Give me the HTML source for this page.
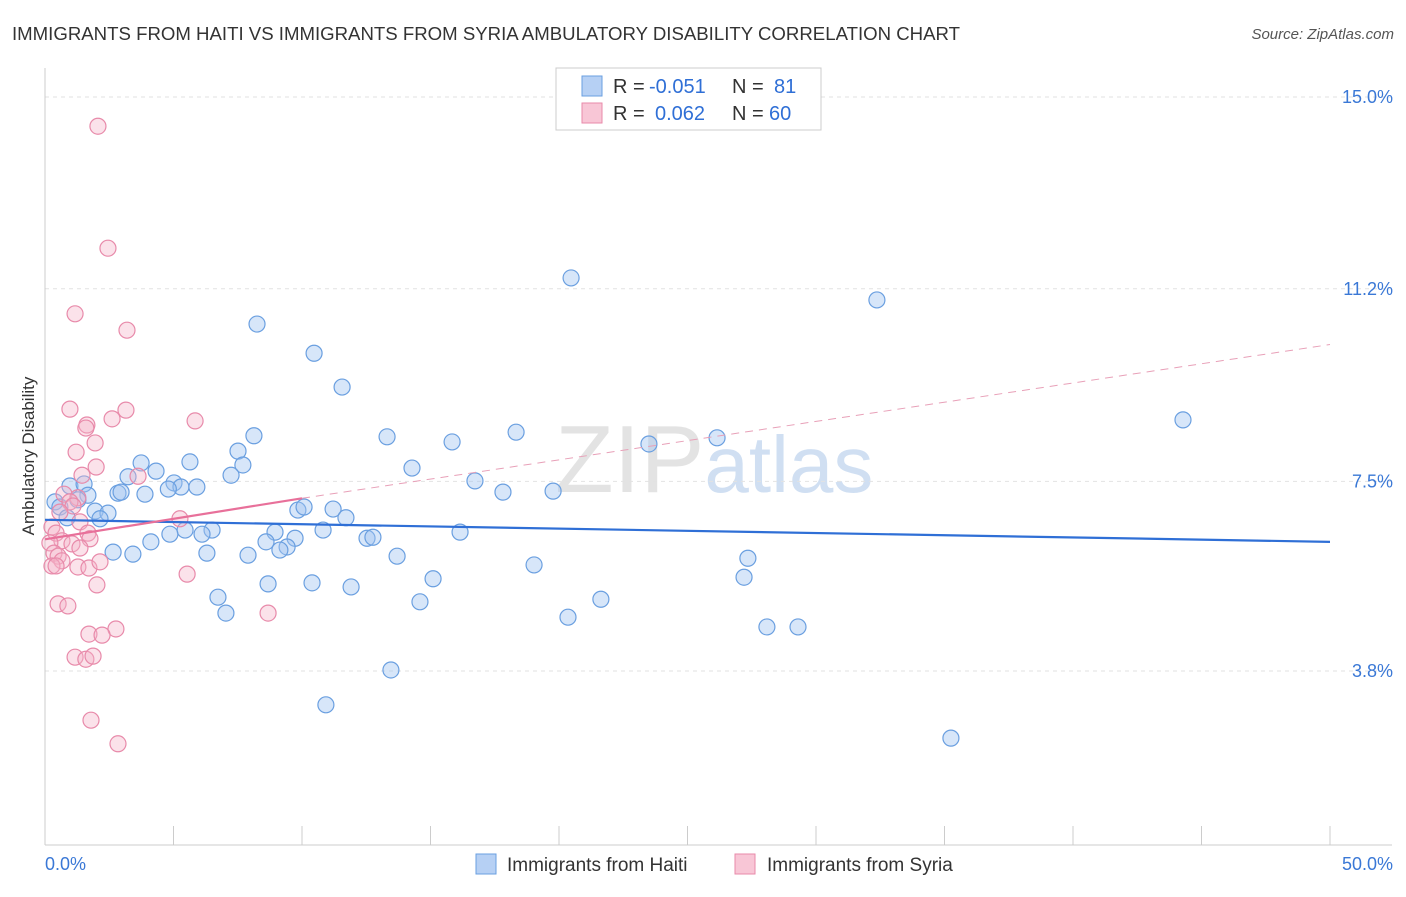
<!DOCTYPE html>
<html><head><meta charset="utf-8">
<style>
body{margin:0;background:#fff;font-family:"Liberation Sans",sans-serif;}
svg text{font-family:"Liberation Sans",sans-serif;}
</style></head>
<body>
<svg id="chart" width="1406" height="892" xmlns="http://www.w3.org/2000/svg">
<text x="12" y="40" font-size="18" fill="#333" textLength="948" lengthAdjust="spacingAndGlyphs">IMMIGRANTS FROM HAITI VS IMMIGRANTS FROM SYRIA AMBULATORY DISABILITY CORRELATION CHART</text>
<text x="1394" y="39" font-size="15" fill="#555" text-anchor="end" font-style="italic">Source: ZipAtlas.com</text>
<text x="555" y="492" font-size="96" fill="#ddd" font-family="Liberation Serif" opacity="0.8">ZIP<tspan fill="#c5d8f0" font-family="Liberation Sans" font-size="80">atlas</tspan></text>
<g id="grid"></g>
<g id="axes"></g>
<g id="marks"></g>
<g id="trends"></g>
<text transform="translate(34,456) rotate(-90)" font-size="17" fill="#333" text-anchor="middle">Ambulatory Disability</text>
<g>
<rect x="556" y="68" width="265" height="62" fill="#fff" stroke="#ccc"/>
<rect x="582" y="76" width="20" height="20" fill="#b6d0f4" stroke="#6a9fe0"/>
<rect x="582" y="103" width="20" height="20" fill="#f8c6d6" stroke="#e88aaa"/>
<text x="613" y="93" font-size="20" fill="#333">R =</text>
<text x="649" y="93" font-size="20" fill="#2f6fd6">-0.051</text>
<text x="732" y="93" font-size="20" fill="#333">N =</text>
<text x="774" y="93" font-size="20" fill="#2f6fd6">81</text>
<text x="613" y="120" font-size="20" fill="#333">R =</text>
<text x="655" y="120" font-size="20" fill="#2f6fd6">0.062</text>
<text x="732" y="120" font-size="20" fill="#333">N =</text>
<text x="769" y="120" font-size="20" fill="#2f6fd6">60</text>
</g>
<g>
<rect x="476" y="854" width="20" height="20" fill="#b6d0f4" stroke="#6a9fe0"/>
<text x="507" y="871" font-size="19" fill="#333">Immigrants from Haiti</text>
<rect x="735" y="854" width="20" height="20" fill="#f8c6d6" stroke="#e88aaa"/>
<text x="767" y="871" font-size="19" fill="#333">Immigrants from Syria</text>
</g>
</svg>
<script>
const yTicks=[15.0,11.2,7.5,3.8];
const yTickLabels=["15.0%","11.2%","7.5%","3.8%"];
const xTickLabels=["0.0%","50.0%"];
const haitiX=[20.47,32.37,8.25,10.47,11.56,44.28,18.33,8.13,13.31,15.84,26.15,23.50,7.51,3.74,5.64,7.70,14.28,4.32,7.24,3.23,5.02,5.29,5.91,4.80,16.73,17.82,19.77,0.97,1.52,1.67,2.84,2.96,3.89,0.39,0.58,1.28,1.95,2.45,2.14,0.86,9.84,10.08,11.21,11.71,10.82,5.45,6.50,6.11,4.86,16.15,8.95,9.73,8.60,12.53,12.76,4.12,9.42,9.14,2.65,3.42,6.30,7.90,13.70,27.35,19.03,15.10,27.20,8.68,10.39,11.91,6.73,21.63,14.59,7.04,20.35,28.09,29.30,13.46,10.93,35.25];
const haitiY=[11.47,11.04,10.57,10.0,9.34,8.70,8.46,8.39,8.37,8.27,8.35,8.23,8.09,7.86,7.88,7.82,7.76,7.70,7.62,7.59,7.47,7.39,7.39,7.35,7.51,7.29,7.31,7.41,7.45,7.23,7.27,7.29,7.25,7.10,7.00,7.14,6.92,6.88,6.77,6.79,6.94,7.00,6.96,6.79,6.55,6.55,6.55,6.47,6.47,6.51,6.51,6.39,6.32,6.39,6.41,6.32,6.22,6.16,6.12,6.08,6.10,6.06,6.04,6.00,5.87,5.60,5.63,5.50,5.52,5.44,5.24,5.20,5.15,4.93,4.85,4.66,4.66,3.82,3.14,2.49];
const syriaX=[2.06,2.45,1.17,3.19,0.97,3.15,5.84,2.61,1.63,1.59,1.95,1.21,1.99,3.62,1.44,0.74,1.28,0.97,1.09,0.58,5.25,1.36,0.27,0.43,1.67,1.75,0.66,1.05,0.19,1.36,0.35,0.51,0.66,0.27,0.43,1.28,1.71,2.14,5.53,2.02,0.51,0.89,8.68,2.76,1.71,2.22,1.17,1.59,1.87,1.79,2.84];
const syriaY=[14.43,12.05,10.77,10.45,8.91,8.89,8.68,8.72,8.60,8.54,8.25,8.07,7.78,7.60,7.62,7.25,7.18,7.10,7.02,6.90,6.77,6.71,6.61,6.49,6.49,6.38,6.34,6.28,6.30,6.20,6.10,6.04,5.95,5.85,5.85,5.83,5.81,5.93,5.69,5.48,5.11,5.07,4.93,4.62,4.52,4.50,4.07,4.03,4.09,2.84,2.38];
const haitiTrend=[6.75,6.32];
const syriaTrend=[6.37,7.17,10.17];
const X=v=>45+v*25.7, Y=v=>97+(15-v)*51.25;
const NS="http://www.w3.org/2000/svg";
function mk(p,t,a){const e=document.createElementNS(NS,t);for(const k in a)e.setAttribute(k,a[k]);p.appendChild(e);return e;}
const grid=document.getElementById('grid'),axes=document.getElementById('axes'),marks=document.getElementById('marks'),trends=document.getElementById('trends');
yTicks.forEach((t,i)=>{
 const y=Y(t)-(i==1?3:0);
 const l=mk(grid,'line',{x1:45,x2:1392,y1:y,y2:y,stroke:'#e2e2e2','stroke-dasharray':'4,4'});
 
 
 const tx=mk(axes,'text',{x:1393,y:y+6,'font-size':18,fill:'#3a78d6','text-anchor':'end'});
 tx.textContent=yTickLabels[i];
 
 
});
const ax=mk(axes,'line',{x1:45,x2:1392,y1:845,y2:845,stroke:'#ccc'});


const ay=mk(axes,'line',{x1:45,x2:45,y1:68,y2:845,stroke:'#ccc'});


for(let i=0;i<=10;i++){const t=mk(axes,'line',{x1:X(i*5),x2:X(i*5),y1:826,y2:845,stroke:'#ccc'});
 
 }
[[0,'start',45],[50,'end',1393]].forEach((d,i)=>{const t=mk(axes,'text',{x:d[2],y:870,'font-size':18,fill:'#3a78d6','text-anchor':d[1]});t.textContent=xTickLabels[i];
 
 });
haitiX.forEach((x,i)=>{const c=mk(marks,'circle',{cx:X(x),cy:Y(haitiY[i]),r:8,fill:'rgba(160,195,240,0.42)',stroke:'#6a9fe0','stroke-width':1.2});
 
 });
syriaX.forEach((x,i)=>{const c=mk(marks,'circle',{cx:X(x),cy:Y(syriaY[i]),r:8,fill:'rgba(245,180,200,0.38)',stroke:'#e88aaa','stroke-width':1.2});
 
 });
const h=mk(trends,'line',{x1:X(0),y1:Y(haitiTrend[0]),x2:X(50),y2:Y(haitiTrend[1]),stroke:'#2f6fd6','stroke-width':2.2});


const s1=mk(trends,'line',{x1:X(0),y1:Y(syriaTrend[0]),x2:X(10),y2:Y(syriaTrend[1]),stroke:'#e8709a','stroke-width':2.2});


const s2=mk(trends,'line',{x1:X(10),y1:Y(syriaTrend[1]),x2:X(50),y2:Y(syriaTrend[2]),stroke:'#e8a0b8','stroke-width':1,'stroke-dasharray':'8,6'});


</script>
</body></html>
